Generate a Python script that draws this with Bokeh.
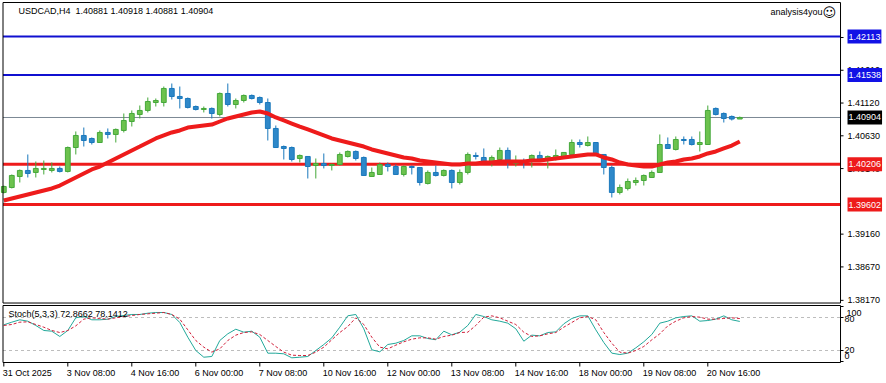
from bokeh.plotting import figure
from bokeh.layouts import column
from bokeh.models import Label, Range1d, ColumnDataSource
from bokeh.core.properties import value
from bokeh.embed import file_html
from bokeh.resources import INLINE

symbol = "USDCAD,H4"
open_ = [
    1.39783, 1.39857, 1.40022, 1.40112, 1.40082, 1.40127, 1.40112, 1.40142, 1.40097, 1.40455,
    1.40635, 1.40590, 1.40530, 1.40680, 1.40650, 1.40710, 1.40844, 1.40949, 1.41009, 1.41128,
    1.41128, 1.41338, 1.41218, 1.41188, 1.41068, 1.41024, 1.41039, 1.40949, 1.41263, 1.41098,
    1.41158, 1.41233, 1.41203, 1.41128, 1.40740, 1.40470, 1.40455, 1.40291, 1.40321, 1.40186,
    1.40216, 1.40186, 1.40201, 1.40321, 1.40396, 1.40306, 1.40022, 1.40052, 1.40201, 1.40171,
    1.40052, 1.40171, 1.40156, 1.39917, 1.40082, 1.40037, 1.40112, 1.39932, 1.40082, 1.40336,
    1.40306, 1.40246, 1.40276, 1.40411, 1.40216, 1.40246, 1.40276, 1.40336, 1.40276, 1.40291,
    1.40321, 1.40351, 1.40530, 1.40485, 1.40530, 1.40351, 1.40156, 1.39783, 1.39843, 1.39932,
    1.39962, 1.40007, 1.40082, 1.40500, 1.40426, 1.40575, 1.40575, 1.40500, 1.40500, 1.41039,
    1.40964, 1.40919, 1.40881]
high = [
    1.39887, 1.40052, 1.40127, 1.40351, 1.40246, 1.40261, 1.40231, 1.40171, 1.40470, 1.40695,
    1.40754, 1.40605, 1.40710, 1.40740, 1.40740, 1.40964, 1.41009, 1.41083, 1.41203, 1.41188,
    1.41367, 1.41412, 1.41367, 1.41203, 1.41083, 1.41068, 1.41054, 1.41278, 1.41412, 1.41188,
    1.41248, 1.41248, 1.41218, 1.41188, 1.40784, 1.40485, 1.40470, 1.40351, 1.40321, 1.40291,
    1.40366, 1.40216, 1.40381, 1.40411, 1.40411, 1.40321, 1.40156, 1.40231, 1.40231, 1.40201,
    1.40186, 1.40186, 1.40156, 1.40112, 1.40186, 1.40127, 1.40127, 1.40127, 1.40381, 1.40381,
    1.40441, 1.40336, 1.40455, 1.40455, 1.40336, 1.40291, 1.40351, 1.40396, 1.40336, 1.40426,
    1.40381, 1.40575, 1.40575, 1.40620, 1.40530, 1.40351, 1.40186, 1.39902, 1.39992, 1.40007,
    1.40052, 1.40112, 1.40650, 1.40605, 1.40620, 1.40620, 1.40620, 1.40695, 1.41083, 1.41054,
    1.40979, 1.40934, 1.40918]
low = [
    1.39768, 1.39843, 1.39932, 1.40007, 1.40007, 1.40052, 1.40082, 1.40082, 1.40082, 1.40351,
    1.40470, 1.40500, 1.40530, 1.40590, 1.40530, 1.40680, 1.40769, 1.40889, 1.40979, 1.41068,
    1.41068, 1.41173, 1.41039, 1.41039, 1.41009, 1.40979, 1.40889, 1.40919, 1.41068, 1.41039,
    1.41128, 1.41173, 1.41098, 1.40560, 1.40455, 1.40276, 1.40246, 1.40231, 1.39992, 1.39992,
    1.40142, 1.40112, 1.40186, 1.40306, 1.40261, 1.40037, 1.40022, 1.40052, 1.40097, 1.40052,
    1.40022, 1.40052, 1.39887, 1.39902, 1.40022, 1.40022, 1.39843, 1.39902, 1.40052, 1.40276,
    1.40231, 1.40171, 1.40261, 1.40142, 1.40171, 1.40142, 1.40156, 1.40261, 1.40142, 1.40261,
    1.40291, 1.40351, 1.40455, 1.40470, 1.40351, 1.40052, 1.39708, 1.39753, 1.39813, 1.39887,
    1.39887, 1.40007, 1.40082, 1.40441, 1.40411, 1.40500, 1.40485, 1.40396, 1.40500, 1.40934,
    1.40829, 1.40859, 1.40881]
close = [
    1.39872, 1.40037, 1.40112, 1.40067, 1.40142, 1.40142, 1.40142, 1.40097, 1.40455, 1.40635,
    1.40560, 1.40530, 1.40680, 1.40650, 1.40725, 1.40859, 1.40964, 1.41009, 1.41143, 1.41158,
    1.41338, 1.41218, 1.41188, 1.41054, 1.41024, 1.41039, 1.40964, 1.41263, 1.41098, 1.41158,
    1.41233, 1.41188, 1.41128, 1.40740, 1.40455, 1.40441, 1.40276, 1.40336, 1.40171, 1.40216,
    1.40186, 1.40201, 1.40351, 1.40396, 1.40291, 1.40037, 1.40082, 1.40201, 1.40171, 1.40052,
    1.40171, 1.40156, 1.39932, 1.40082, 1.40037, 1.40112, 1.39932, 1.40082, 1.40351, 1.40321,
    1.40231, 1.40306, 1.40411, 1.40261, 1.40246, 1.40231, 1.40336, 1.40276, 1.40321, 1.40336,
    1.40381, 1.40530, 1.40500, 1.40530, 1.40351, 1.40156, 1.39783, 1.39857, 1.39947, 1.39962,
    1.40037, 1.40082, 1.40500, 1.40441, 1.40575, 1.40560, 1.40500, 1.40530, 1.41009, 1.40949,
    1.40889, 1.40881, 1.40904]
ma = [
    1.39663, 1.39693, 1.39723, 1.39753, 1.39783, 1.39813, 1.39843, 1.39887, 1.39947, 1.40007,
    1.40067, 1.40127, 1.40171, 1.40231, 1.40291, 1.40351, 1.40411, 1.40470, 1.40530, 1.40590,
    1.40635, 1.40680, 1.40710, 1.40754, 1.40769, 1.40784, 1.40799, 1.40844, 1.40889, 1.40919,
    1.40949, 1.40979, 1.40994, 1.40964, 1.40904, 1.40859, 1.40814, 1.40769, 1.40725, 1.40680,
    1.40635, 1.40590, 1.40560, 1.40530, 1.40500, 1.40470, 1.40426, 1.40396, 1.40366, 1.40336,
    1.40306, 1.40291, 1.40261, 1.40246, 1.40231, 1.40216, 1.40201, 1.40201, 1.40216, 1.40216,
    1.40231, 1.40231, 1.40246, 1.40246, 1.40246, 1.40246, 1.40261, 1.40261, 1.40276, 1.40291,
    1.40306, 1.40321, 1.40336, 1.40351, 1.40351, 1.40306, 1.40276, 1.40231, 1.40201, 1.40186,
    1.40171, 1.40171, 1.40201, 1.40231, 1.40246, 1.40276, 1.40291, 1.40321, 1.40366, 1.40396,
    1.40441, 1.40485, 1.40545]
stoch_main = [
    66.7, 71.5, 75.8, 73.3, 65.5, 56.4, 55.1, 45.5, 56.4, 79.5,
    81.8, 75.8, 75.8, 76.9, 81.8, 83.6, 85.5, 85.5, 87.8, 89.1,
    89.1, 85.5, 70.9, 44.2, 20.0, 7.8, 9.1, 38.2, 50.4, 58.7,
    53.3, 55.1, 44.2, 15.1, 15.1, 14.0, 6.7, 7.8, 9.1, 20.0,
    30.9, 43.0, 62.4, 83.1, 85.5, 59.5, 21.3, 17.6, 30.9, 33.3,
    38.2, 46.7, 46.7, 41.8, 39.5, 55.1, 48.5, 53.3, 65.5, 85.5,
    81.8, 75.8, 73.3, 69.7, 59.5, 36.9, 47.9, 46.7, 52.7, 53.9,
    68.5, 78.2, 83.0, 83.0, 57.6, 34.5, 15.2, 12.7, 15.2, 24.8,
    35.8, 49.1, 69.7, 73.3, 79.4, 81.8, 83.0, 73.3, 74.5, 77.0,
    83.0, 75.8, 72.8662]
stoch_signal = [
    65.5, 67.3, 71.5, 72.1, 67.3, 62.4, 56.4, 52.7, 56.4, 64.8,
    77.0, 79.4, 78.2, 77.0, 79.4, 81.8, 83.6, 85.5, 86.7, 87.8,
    89.1, 85.5, 77.0, 57.6, 38.2, 26.1, 17.0, 23.0, 38.2, 47.9,
    52.7, 53.9, 49.1, 38.2, 27.3, 17.0, 11.5, 10.9, 10.9, 17.0,
    26.1, 39.5, 52.7, 63.6, 79.4, 67.3, 44.2, 26.1, 23.0, 29.7,
    35.8, 40.6, 43.0, 43.0, 40.6, 45.5, 47.9, 52.7, 53.3, 65.5,
    80.6, 83.0, 79.4, 73.3, 67.3, 53.3, 45.5, 46.7, 50.3, 52.7,
    62.4, 70.9, 79.4, 81.8, 75.8, 52.7, 33.3, 17.0, 15.2, 20.0,
    27.3, 39.4, 50.3, 64.8, 73.3, 79.4, 81.8, 80.6, 77.0, 77.0,
    78.2, 79.4, 78.1412]
blue_levels = [1.42113, 1.41538]
red_levels = [1.40206, 1.39602]
price_ticks = [1.38170, 1.38670, 1.39160, 1.40140, 1.40630, 1.41120, 1.41610, 1.42100]
stoch_levels = [20, 80]
stoch_ticks = [0, 20, 80, 100]
time_bars = [0, 8, 16, 24, 32, 40, 48, 56, 64, 72, 80, 88]
time_labels = ["31 Oct 2025", "3 Nov 08:00", "4 Nov 16:00", "6 Nov 00:00", "7 Nov 08:00",
               "10 Nov 16:00", "12 Nov 00:00", "13 Nov 08:00", "14 Nov 16:00",
               "18 Nov 00:00", "19 Nov 08:00", "20 Nov 16:00"]

FONT = "Liberation Sans"
FS = "9px"
GREEN_F, GREEN_L = "#6CC24E", "#45A83A"
BLUE_F, BLUE_L = "#2E88C9", "#1A78BC"
RED = "#EE1B1B"
LBLUE = "#1010D0"
BOX_BLUE = "#1212E6"

n = len(close)
bars = list(range(n))

# whole-canvas ranges (8 px per bar); the chart frame is drawn as a glyph
XR = (-0.4125, 110.3375)
FX0, FX1 = -0.1, 104.59          # left / right frame edges
PY = (1.38108, 1.42653)           # price range of the upper canvas
FY0, FY1 = 1.38130, 1.42623       # frame bottom / top
SY = (-40.0, 103.64)              # stochastic range of the lower canvas
SF0, SF1 = -1.82, 101.8           # stochastic frame bottom / top
TICK = 0.375                      # 3 px in bar units


def base(h, yr):
    f = figure(width=886, height=h, x_range=Range1d(*XR), y_range=Range1d(*yr),
               output_backend="svg", toolbar_location=None, x_axis_location=None,
               y_axis_location=None, min_border=0)
    f.min_border_left = f.min_border_right = f.min_border_top = f.min_border_bottom = 0
    f.grid.visible = False
    f.outline_line_color = None
    f.background_fill_color = "white"
    f.border_fill_color = "white"
    return f


p1 = base(304, PY)

p1.segment(x0=[FX0] * 2, x1=[FX1] * 2, y0=blue_levels, y1=blue_levels,
           line_color=LBLUE, line_width=2)
p1.segment(x0=[FX0] * 2, x1=[FX1] * 2, y0=red_levels, y1=red_levels,
           line_color=RED, line_width=3)
p1.segment(x0=[FX0], x1=[FX1], y0=[close[-1]], y1=[close[-1]], line_color="#7C8894", line_width=1)

up = [c >= o for o, c in zip(open_, close)]
src = ColumnDataSource(dict(
    x=bars, h=high, l=low,
    top=[max(o, c) for o, c in zip(open_, close)],
    bot=[min(o, c) for o, c in zip(open_, close)],
    fc=[GREEN_F if u else BLUE_F for u in up],
    lc=[GREEN_L if u else BLUE_L for u in up],
))
p1.segment(x0="x", y0="l", x1="x", y1="h", line_color="lc", line_width=1, source=src)
p1.vbar(x="x", width=0.6, top="top", bottom="bot", fill_color="fc", line_color="lc",
        line_width=1, source=src)
p1.line(bars, ma, line_color=RED, line_width=4)

# frame and price scale
p1.quad(left=[FX0], right=[FX1], bottom=[FY0], top=[FY1], fill_color=None,
        line_color="black", line_width=1)
p1.segment(x0=[FX1] * len(price_ticks), x1=[FX1 + TICK] * len(price_ticks),
           y0=price_ticks, y1=price_ticks, line_color="black", line_width=1)
p1.text(x=[FX1] * len(price_ticks), y=price_ticks, text=[f"{t:.5f}" for t in price_ticks],
        x_offset=7, text_font=value(FONT), text_font_size=FS, text_color="black",
        text_align="left", text_baseline="middle")

for lv, col in [(blue_levels[0], BOX_BLUE), (blue_levels[1], BOX_BLUE), (close[-1], "black"),
                (red_levels[0], RED), (red_levels[1], RED)]:
    p1.add_layout(Label(x=FX1, y=lv, x_offset=7, text=f"{lv:.5f}", text_color="white",
                        text_font=FONT, text_font_size=FS, text_align="left",
                        text_baseline="middle", background_fill_color=col, padding=(1, 4)))

title_txt = f"{symbol}\u00a0 {open_[-1]:.5f} {high[-1]:.5f} {low[-1]:.5f} {close[-1]:.5f}"
p1.add_layout(Label(x=1.84, y=1.42489, text=title_txt, text_font=FONT, text_font_size=FS,
                    text_align="left", text_baseline="middle", text_color="black"))
p1.add_layout(Label(x=102.35, y=1.42474, text="analysis4you", text_font=FONT, text_font_size=FS,
                    text_align="right", text_baseline="middle", text_color="black"))
p1.add_layout(Label(x=103.2, y=1.42474, text="\u263a", text_font="DejaVu Sans",
                    text_font_size="13px", text_align="center", text_baseline="middle",
                    text_color="black"))

p2 = base(79, SY)
p2.segment(x0=[FX0] * 2, x1=[FX1] * 2, y0=stoch_levels, y1=stoch_levels,
           line_color="#BDBDBD", line_width=1, line_dash="3 3")
p2.line(bars, stoch_main, line_color="#22A89A", line_width=1)
p2.line(bars, stoch_signal, line_color="#D0203A", line_width=1, line_dash="3 2")
p2.quad(left=[FX0], right=[FX1], bottom=[SF0], top=[SF1], fill_color=None,
        line_color="black", line_width=1)
p2.segment(x0=[FX1] * len(stoch_ticks), x1=[FX1 + TICK] * len(stoch_ticks),
           y0=stoch_ticks, y1=stoch_ticks, line_color="black", line_width=1)
p2.segment(x0=time_bars, x1=time_bars, y0=[SF0] * len(time_bars),
           y1=[SF0 - 7.3] * len(time_bars), line_color="black", line_width=1)

p2.add_layout(Label(x=0.6, y=85.5, text=f"Stoch(5,3,3) {stoch_main[-1]:.4f} {stoch_signal[-1]:.4f}",
                    text_font=FONT, text_font_size=FS, text_align="left", text_baseline="middle",
                    text_color="black"))
p2.text(x=[FX1] * 4, y=[89, 78, 20.9, 10], text=["100", "80", "20", "0"],
        x_offset=[6, 4, 4, 4], text_font=value(FONT), text_font_size=FS, text_color="black",
        text_align="left", text_baseline="middle")
p2.text(x=time_bars, y=[-20] * len(time_bars), text=time_labels, x_offset=-1,
        text_font=value(FONT), text_font_size=FS, text_color="black",
        text_align="left", text_baseline="middle")

layout = column(p1, p2, spacing=0)
open("out.html", "w").write(file_html(layout, INLINE))
